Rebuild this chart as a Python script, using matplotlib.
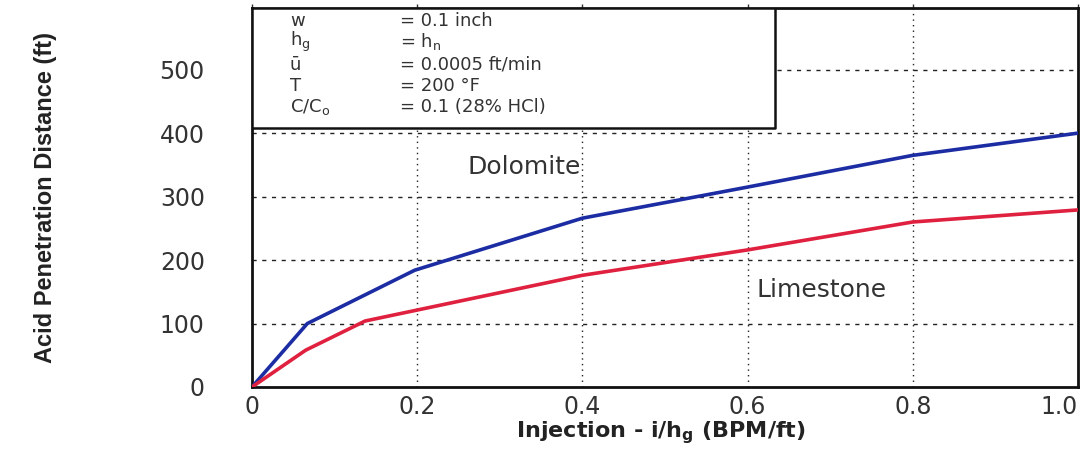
import matplotlib.pyplot as plt

# data
dolo_x = [0, 0.067, 0.197, 0.4, 0.6, 0.8, 1.0]
dolo_y = [0, 100, 184, 266, 315, 365, 400]
lime_x = [0, 0.065, 0.137, 0.4, 0.6, 0.8, 1.0]
lime_y = [0, 58, 104, 176, 216, 260, 279]

x_ticks = [0, 0.2, 0.4, 0.6, 0.8, 1.0]
x_tick_labels = ['0', '0.2', '0.4', '0.6', '0.8', '1.0']
y_ticks = [0, 100, 200, 300, 400, 500]

params = ['w', r'h$_\mathregular{g}$', 'ū', 'T', r'C/C$_\mathregular{o}$']
values = ['= 0.1 inch', r'= h$_\mathregular{n}$', '= 0.0005 ft/min', '= 200 °F',
          '= 0.1 (28% HCl)']

plt.rcParams['font.family'] = ['DejaVu Sans']
plt.rcParams['mathtext.fontset'] = 'dejavusans'

fig = plt.figure(figsize=(10.88, 4.5), dpi=100)
ax = fig.add_axes([0.2316, 0.14, 0.7592, 0.842])

ax.plot(dolo_x, dolo_y, color='#1c2ca3', lw=2.6, zorder=3)
ax.plot(lime_x, lime_y, color='#e0203f', lw=2.6, zorder=3)

ax.set_xlim(0, 1.0)
ax.set_ylim(0, 597)
ax.set_xticks(x_ticks)
ax.set_xticklabels(x_tick_labels)
ax.set_yticks(y_ticks)
ax.get_xticklabels()[-1].set_horizontalalignment('right')

for x in x_ticks[1:-1]:
    ax.axvline(x, color='#222222', lw=1, ls=(0, (1, 3)), zorder=1)
for y in y_ticks[1:]:
    ax.axhline(y, color='#222222', lw=1, ls=(0, (3, 4)), zorder=1)

ax.tick_params(axis='both', labelsize=17, length=0, colors='#333333')
ax.tick_params(axis='x', pad=3)
ax.tick_params(axis='y', pad=34)
ax.tick_params(axis='x', top=True, length=3, direction='out', width=1)
ax.tick_params(axis='x', bottom=False)
for s in ax.spines.values():
    s.set_linewidth(2)
    s.set_color('#111111')

ax.set_xlabel(r'Injection - i/h$_\mathbf{g}$ (BPM/ft)', fontsize=16,
              fontweight='bold', color='#222222')
ax.xaxis.set_label_coords(0.495, -0.085)
ax.set_ylabel('Acid Penetration Distance (ft)', fontsize=17,
              family=['Liberation Sans Narrow', 'Liberation Sans'],
              fontweight='bold', color='#222222')
ax.yaxis.set_label_coords(-0.236, 0.5)

# parameter box in the upper left
ax.fill_between([0, 0.633], 408, 597, facecolor='white', edgecolor='#111111',
                lw=1.8, zorder=4)
line_y = [576, 544, 508, 474, 441]
for p, v, yy in zip(params, values, line_y):
    ax.text(0.046, yy, p, fontsize=13, color='#333333', va='center', zorder=5)
    ax.text(0.179, yy, v, fontsize=13, color='#333333', va='center', zorder=5)

ax.text(0.329, 346, 'Dolomite', fontsize=18, color='#333333', ha='center',
        va='center', zorder=5)
ax.text(0.689, 153, 'Limestone', fontsize=18, color='#333333', ha='center',
        va='center', zorder=5)

fig.savefig('out.png', dpi=100)
